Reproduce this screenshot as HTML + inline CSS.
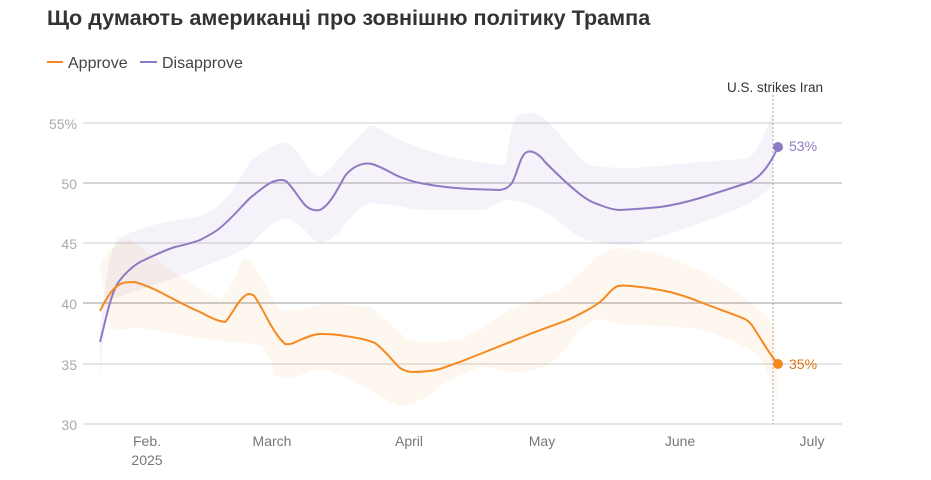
<!DOCTYPE html>
<html><head><meta charset="utf-8"><style>
body{margin:0;background:#fff;width:931px;height:475px;overflow:hidden;font-family:"Liberation Sans",sans-serif}
</style></head><body>
<svg width="931" height="475" xmlns="http://www.w3.org/2000/svg" font-family="Liberation Sans, sans-serif">
<text x="47" y="25" font-size="21.6" font-weight="bold" fill="#333">Що думають американці про зовнішню політику Трампа</text>
<line x1="47" y1="62" x2="63" y2="62" stroke="#f5891f" stroke-width="2"/>
<text x="68" y="68" font-size="16" fill="#444">Approve</text>
<line x1="140" y1="62" x2="157" y2="62" stroke="#8f79c2" stroke-width="2"/>
<text x="162" y="68" font-size="16" fill="#444">Disapprove</text>
<g stroke-width="1">
<line x1="83" y1="123" x2="842" y2="123" stroke="#ccc"/>
<line x1="83" y1="183" x2="842" y2="183" stroke="#aaa"/>
<line x1="83" y1="243" x2="842" y2="243" stroke="#ccc"/>
<line x1="83" y1="303" x2="842" y2="303" stroke="#bbb" stroke-width="1.5"/>
<line x1="83" y1="364" x2="842" y2="364" stroke="#ccc"/>
<line x1="83" y1="424" x2="842" y2="424" stroke="#ccc"/>
</g>
<g font-size="14" fill="#aaa" text-anchor="end">
<text x="77" y="129">55%</text><text x="77" y="189">50</text><text x="77" y="249">45</text>
<text x="77" y="309">40</text><text x="77" y="370">35</text><text x="77" y="430">30</text>
</g>
<g font-size="14" fill="#777" text-anchor="middle">
<text x="147" y="446">Feb.</text><text x="147" y="465">2025</text>
<text x="272" y="446">March</text><text x="409" y="446">April</text>
<text x="542" y="446">May</text><text x="680" y="446">June</text><text x="812" y="446">July</text>
</g>
<path d="M100,330 C105,280 110,245 120,237 C140,228 160,222 190,218 C215,214 225,205 250,162 C265,150 275,143 285,143 C298,145 303,168 320,177 C332,170 340,155 370,125 C380,128 390,135 400,140 C425,150 450,160 505,165 C510,140 512,118 518,115 C528,113 535,112 540,115 C560,130 575,158 590,165 C620,170 640,168 690,163 C720,160 740,160 748,158 C760,150 768,125 773,110 L773,185 C760,198 750,203 740,208 C710,220 690,228 640,243 C630,245 625,246 620,245 C595,243 585,240 580,237 C565,228 558,220 550,215 C535,205 520,200 505,200 C495,203 490,210 480,210 L420,210 C400,207 385,203 370,203 C360,207 352,215 345,225 C335,238 325,243 320,243 C312,240 308,235 305,230 C295,223 290,218 285,218 C270,222 260,235 250,245 C230,258 215,262 200,268 C170,280 150,286 140,290 C125,295 115,298 110,300 C104,320 102,350 100,380 Z" fill="#8f79c2" fill-opacity="0.09"/>
<path d="M100,268 C104,258 106,253 110,250 C118,243 124,240 130,240 C145,250 160,262 170,270 C190,282 205,292 220,300 C228,292 235,280 240,265 C243,258 246,258 250,262 C262,275 270,295 280,310 L300,310 C315,306 322,304 330,304 C350,305 360,306 370,307 C385,318 400,335 410,340 C420,343 430,342 440,342 C450,341 455,340 460,340 C480,330 495,318 510,310 C530,300 545,296 560,290 C580,275 590,262 600,255 C610,250 615,248 620,248 C640,250 650,252 660,255 C680,262 690,266 700,270 C720,282 730,288 740,295 C758,308 770,318 775,330 L778,400 C770,380 765,360 755,352 C730,340 715,333 700,329 C670,326 640,325 620,325 C610,322 605,320 600,318 C592,322 585,326 580,330 C570,345 560,357 550,363 C538,370 528,372 520,372 L510,372 C495,368 488,367 480,367 C465,373 450,380 440,385 C436,390 433,393 430,395 C418,402 408,406 400,406 C385,400 378,395 370,390 C350,380 335,372 320,368 C305,372 297,378 290,378 C282,378 278,377 275,375 C272,365 270,358 265,350 C262,346 260,345 258,345 C245,343 238,342 230,342 C205,339 190,337 180,335 C160,331 150,329 140,328 C125,329 115,330 110,330 Z" fill="#f5891f" fill-opacity="0.07"/>
<line x1="773" y1="95" x2="773" y2="424" stroke="#aaa" stroke-dasharray="2,2"/>
<text x="823" y="92" font-size="13.5" fill="#333" text-anchor="end">U.S. strikes Iran</text>
<path d="M100,342 C108,310 112,290 120,280 C128,270 135,265 140,262 C155,255 165,250 175,247 C188,244 195,242 200,240 C210,235 215,232 220,228 C232,218 240,208 250,198 C260,190 268,183 275,181 C282,179 285,180 287,182 C295,190 300,200 305,205 C312,212 318,210 320,210 C330,205 337,190 345,176 C352,167 362,162 372,164 C385,168 392,174 400,177 C408,180 414,182 420,183 C440,187 455,188 470,189 L500,190 C505,189 508,188 512,183 C518,172 520,155 527,152 C533,150 540,155 545,162 C555,172 565,182 575,190 C585,199 593,203 600,205 C610,209 615,210 620,210 C640,209 650,208 660,207 C675,205 690,201 700,198 C720,192 735,187 750,182 C760,177 770,165 778,147" fill="none" stroke="#8f79c2" stroke-width="2"/>
<path d="M100,311 C108,295 114,286 123,283 C128,282 132,282 135,282 C145,285 152,288 160,292 C175,300 190,308 200,312 C210,317 216,321 225,322 C232,316 238,298 248,294 C252,294 254,295 255,297 C265,312 272,332 285,344 C292,345 295,342 300,340 C310,336 315,334 320,334 C333,334 340,335 345,336 C360,338 368,340 375,343 C387,352 393,362 400,368 C405,371 408,372 412,372 C425,372 432,371 440,369 C455,364 468,359 480,354 C500,346 515,340 530,334 C545,328 558,324 570,319 C582,313 592,308 600,302 C607,296 612,288 618,286 C625,285 632,286 640,287 C650,288 660,290 670,292 C685,296 693,299 700,302 C718,309 733,314 745,319 C750,322 752,325 755,330 C763,342 770,355 778,364" fill="none" stroke="#f5891f" stroke-width="2"/>
<circle cx="778" cy="147" r="5" fill="#8f79c2"/>
<circle cx="778" cy="364" r="5" fill="#f5891f"/>
<text x="789" y="151" font-size="14" fill="#8f79c2">53%</text>
<text x="789" y="369" font-size="14" fill="#d9791a">35%</text>
</svg>
</body></html>
